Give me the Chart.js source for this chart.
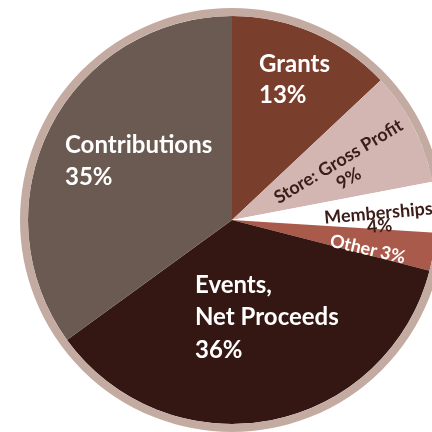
<!DOCTYPE html>
<html>
<head>
<meta charset="utf-8">
<script src="https://cdn.jsdelivr.net/npm/chart.js@4"></script>
<style>
  html, body { margin: 0; padding: 0; background: #ffffff; overflow: hidden; width: 432px; height: 432px; }
  #wrap { position: absolute; left: 0; top: 0; width: 464px; height: 440px; }
  #pie { position: absolute; left: 0; top: 0; }
  .lbl { position: absolute; font-family: Lato, "Open Sans", sans-serif; font-weight: 700; white-space: nowrap; }
</style>
</head>
<body>
<div id="wrap"><canvas id="pie" width="464" height="440"></canvas></div>
<script>
// data (clockwise from 12 o'clock)
const categories = ['Grants', 'Store: Gross Profit', 'Memberships', 'Other', 'Events, Net Proceeds', 'Contributions'];
const shares = [13, 9, 4, 3, 36, 35];
const sliceColors = ['#7a3e2d', '#d3b6b2', '#ffffff', '#a95a4a', '#341712', '#6b5a51'];

// label text per slice (lines), the percentage is appended from shares
const labelLines = [
  ['Grants'],
  ['Store: Gross Profit'],
  ['Memberships'],
  ['Other'],
  ['Events,', 'Net Proceeds'],
  ['Contributions']
];

// label layout relative to pie centre; centred labels are anchored at their middle
const labelStyle = [
  { dx: 27, dy: -173, size: 24, color: '#ffffff', lead: 31 },
  { dx: 111, dy: -51, size: 18, color: '#3b1c17', lead: 20, rot: -31, center: true },
  { dx: 147, dy: -1.5, size: 18, color: '#3b1c17', lead: 13, rot: -5, center: true },
  { dx: 136, dy: 28, size: 18, color: '#ffffff', lead: 20, rot: 13, center: true, inline: true },
  { dx: -37, dy: 47.5, size: 24, color: '#ffffff', lead: 32.5 },
  { dx: -167, dy: -92, size: 24, color: '#ffffff', lead: 32 }
];

const ringPlugin = {
  id: 'ring',
  afterDatasetsDraw(chart) {
    const arc = chart.getDatasetMeta(0).data[0];
    const ctx = chart.ctx;
    ctx.save();
    ctx.beginPath();
    ctx.arc(arc.x, arc.y, arc.outerRadius + 4, 0, Math.PI * 2);
    ctx.lineWidth = 8;
    ctx.strokeStyle = '#c3aba2';
    ctx.stroke();
    ctx.restore();
  }
};

// labels go on as html text placed from the arcs, canvas mangles small rotated glyphs here
const labelPlugin = {
  id: 'sliceLabels',
  afterDraw(chart) {
    const wrap = document.getElementById('wrap');
    wrap.querySelectorAll('.lbl').forEach(el => el.remove());
    const arcs = chart.getDatasetMeta(0).data;
    arcs.forEach((arc, i) => {
      const st = labelStyle[i];
      const pct = shares[i] + '%';
      let lines = labelLines[i].slice();
      if (st.inline) lines = [lines.join(' ') + ' ' + pct];
      else lines.push(pct);
      const div = document.createElement('div');
      div.className = 'lbl';
      div.style.left = (arc.x + st.dx) + 'px';
      div.style.top = (arc.y + st.dy) + 'px';
      div.style.fontSize = st.size + 'px';
      div.style.lineHeight = st.lead + 'px';
      div.style.color = st.color;
      if (st.center) {
        div.style.textAlign = 'center';
        div.style.transform = 'translate(-50%, -50%) rotate(' + st.rot + 'deg)';
      }
      lines.forEach((ln, k) => {
        if (k) div.appendChild(document.createElement('br'));
        div.appendChild(document.createTextNode(ln));
      });
      wrap.appendChild(div);
    });
  }
};

new Chart(document.getElementById('pie'), {
  type: 'pie',
  data: {
    labels: categories,
    datasets: [{
      data: shares,
      backgroundColor: sliceColors,
      borderWidth: 0,
      radius: 204
    }]
  },
  options: {
    responsive: false,
    animation: false,
    layout: { padding: 0 },
    plugins: {
      legend: { display: false },
      tooltip: { enabled: false }
    }
  },
  plugins: [ringPlugin, labelPlugin]
});
</script>
</body>
</html>
